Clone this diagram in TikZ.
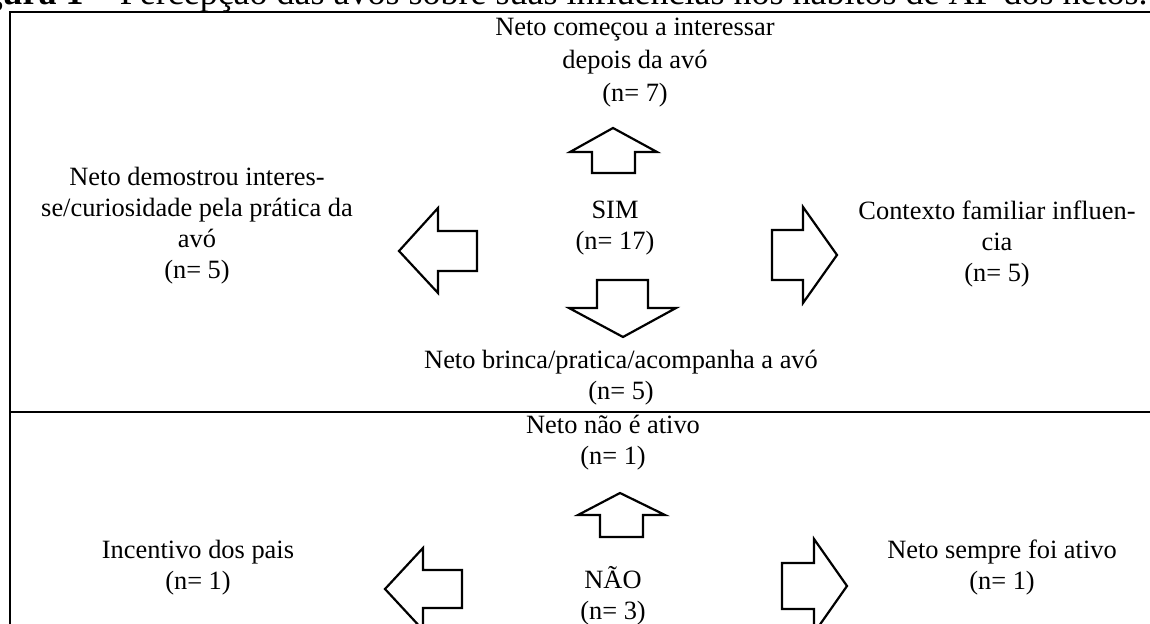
\documentclass[tikz,border=0pt]{standalone}
\usepackage{fontspec}
\setmainfont{Liberation Serif}
\tikzset{
  lbl/.style={align=center, inner sep=0pt, font=\fontsize{13.2}{15.5}\selectfont},
  blockarrow/.style={draw=black, line width=1.1pt, fill=white, line join=miter},
  frameline/.style={draw=black, line width=1.3pt}
}
\begin{document}
\begin{tikzpicture}[x=0.5pt,y=-0.5pt]
\useasboundingbox (0,0) rectangle (1150,624);
% title (partly cut off at the top)
\node[anchor=base east, inner sep=0pt, font=\fontsize{18}{20}\selectfont] (title) at (1148,5)
  {\textbf{Figura 1 –} Percepção das avós sobre suas influências nos hábitos de AF dos netos.};
% frame
\draw[frameline] (1150,12) -- (10,12) -- (10,624);
\draw[frameline] (10,412) -- (1150,412);
% SIM section
\node[lbl, font=\fontsize{13.2}{16.5}\selectfont] (t1) at (635,63) {Neto começou a interessar\\depois da avó\\(n= 7)};
\node[lbl] (sim) at (615,228) {SIM\\(n= 17)};
\node[lbl] (t2) at (197,226) {Neto demostrou interes-\\se/curiosidade pela prática da\\avó\\(n= 5)};
\node[lbl] (t3) at (997,244) {Contexto familiar influen-\\cia\\(n= 5)};
\node[lbl] (t4) at (621,378) {Neto brinca/pratica/acompanha a avó\\(n= 5)};
\draw[blockarrow] (613,128) -- (657,152) -- (635,152) -- (635,173) -- (592,173) -- (592,152) -- (570,152) -- cycle;
\draw[blockarrow] (399,251) -- (438,208) -- (438,231) -- (477,231) -- (477,271) -- (438,271) -- (438,293) -- cycle;
\draw[blockarrow] (837,255) -- (803,207) -- (803,230) -- (772,230) -- (772,280) -- (803,280) -- (803,303) -- cycle;
\draw[blockarrow] (623,337) -- (569,308) -- (597,308) -- (597,280) -- (648,280) -- (648,308) -- (676,308) -- cycle;
% NAO section
\node[lbl] (t5) at (613,443) {Neto não é ativo\\(n= 1)};
\node[lbl] (nao) at (613,596) {NÃO\\(n= 3)};
\node[lbl] (t6) at (198,568) {Incentivo dos pais\\(n= 1)};
\node[lbl] (t7) at (1002,568) {Neto sempre foi ativo\\(n= 1)};
\draw[blockarrow] (620,493) -- (665,515) -- (643,515) -- (643,537) -- (600,537) -- (600,515) -- (578,515) -- cycle;
\draw[blockarrow] (385,589) -- (423,548) -- (423,570) -- (462,570) -- (462,608) -- (423,608) -- (423,630) -- cycle;
\draw[blockarrow] (847,586) -- (814,539) -- (814,563) -- (782,563) -- (782,609) -- (814,609) -- (814,633) -- cycle;
\end{tikzpicture}
\end{document}
